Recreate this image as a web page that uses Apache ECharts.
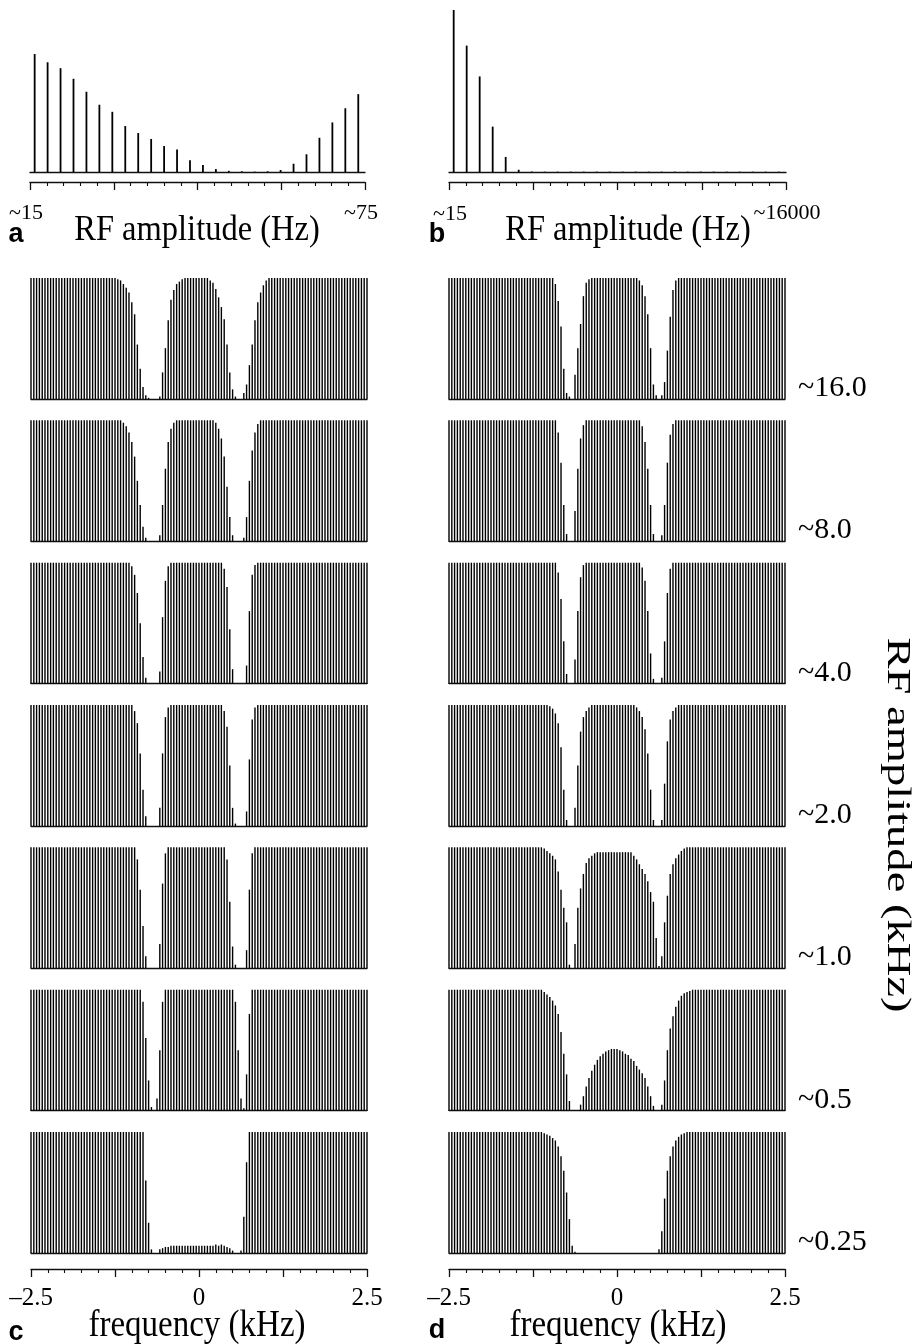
<!DOCTYPE html>
<html><head><meta charset="utf-8">
<script src="https://cdn.jsdelivr.net/npm/echarts@6/dist/echarts.min.js"></script>
<style>html,body{margin:0;padding:0;background:#fff}#main{width:917px;height:1344px}</style>
</head><body><div id="main"></div>
<script>
// ---------- DATA ----------
// panel a / b : stick number along the RF-amplitude axis and relative peak height (%)
const peakNumber = [0,1,2,3,4,5,6,7,8,9,10,11,12,13,14,15,16,17,18,19,20,21,22,23,24,25];
const panelA = [100,93,88,79,68,57,51,39,33,28,22,19,10,6,2.5,1,0.6,0.3,0.6,1.7,7,15,29,42,54,66];
const panelB = [100,78,59,28,9.3,1.4,0.3,0.2,0.2,0.2,0.2,0.2,0.2,0.2,0.2,0.2,0.2,0.2,0.2,0.2,0.2,0.2,0.2,0.2,0.2,0.2];
const abLabels = {aMin:'~15', aMax:'~75', bMin:'~15', bMax:'~16000'};

// panels c / d : frequency of each stick (kHz)
const freqKHz = [-2.5,-2.458,-2.417,-2.375,-2.333,-2.292,-2.25,-2.208,-2.167,-2.125,
-2.083,-2.042,-2,-1.958,-1.917,-1.875,-1.833,-1.792,-1.75,-1.708,
-1.667,-1.625,-1.583,-1.542,-1.5,-1.458,-1.417,-1.375,-1.333,-1.292,
-1.25,-1.208,-1.167,-1.125,-1.083,-1.042,-1,-0.958,-0.917,-0.875,
-0.833,-0.792,-0.75,-0.708,-0.667,-0.625,-0.583,-0.542,-0.5,-0.458,
-0.417,-0.375,-0.333,-0.292,-0.25,-0.208,-0.167,-0.125,-0.083,-0.042,
0,
0.042,0.083,0.125,0.167,0.208,0.25,0.292,0.333,0.375,0.417,
0.458,0.5,0.542,0.583,0.625,0.667,0.708,0.75,0.792,0.833,
0.875,0.917,0.958,1,1.042,1.083,1.125,1.167,1.208,1.25,
1.292,1.333,1.375,1.417,1.458,1.5,1.542,1.583,1.625,1.667,
1.708,1.75,1.792,1.833,1.875,1.917,1.958,2,2.042,2.083,
2.125,2.167,2.208,2.25,2.292,2.333,2.375,2.417,2.458,2.5];

// panel c rows (relative intensity)
const c_16 = [1,1,1,1,1,1,1,1,1,1, 1,1,1,1,1,1,1,1,1,1, 1,1,1,1,1,1,1,1,1,1,
1,.99,.98,.95,.92,.88,.8,.7,.45,.25, .1,.03,.01,0,0,0,.02,.22,.42,.65,
.82,.9,.95,.97,.99,1,1,1,1,1, 1,1,1,1,.98,.96,.91,.84,.76,.66,
.45,.22,.08,.02,0,0,.05,.12,.28,.45, .65,.8,.88,.94,.98,1,1,1,1,1,
1,1,1,1,1,1,1,1,1,1, 1,1,1,1,1,1,1,1,1,1, 1,1,1,1,1,1,1,1,1,1, 1];
const c_8 = [1,1,1,1,1,1,1,1,1,1, 1,1,1,1,1,1,1,1,1,1, 1,1,1,1,1,1,1,1,1,1,
1,1,1,.98,.95,.9,.82,.7,.5,.3, .12,.03,0,0,0,0,.05,.3,.6,.82,
.93,.98,1,1,1,1,1,1,1,1, 1,1,1,1,1,1,.98,.93,.85,.7,
.45,.2,.05,0,0,0,.03,.2,.5,.75, .9,.97,1,1,1,1,1,1,1,1,
1,1,1,1,1,1,1,1,1,1, 1,1,1,1,1,1,1,1,1,1, 1,1,1,1,1,1,1,1,1,1, 1];
const c_4 = [1,1,1,1,1,1,1,1,1,1, 1,1,1,1,1,1,1,1,1,1, 1,1,1,1,1,1,1,1,1,1,
1,1,1,1,1,1,.97,.9,.75,.5, .22,.05,0,0,0,0,.1,.55,.85,.97,
1,1,1,1,1,1,1,1,1,1, 1,1,1,1,1,1,1,1,1,.95,
.8,.45,.12,0,0,0,0,.15,.6,.9, .98,1,1,1,1,1,1,1,1,1,
1,1,1,1,1,1,1,1,1,1, 1,1,1,1,1,1,1,1,1,1, 1,1,1,1,1,1,1,1,1,1, 1];
const c_2 = [1,1,1,1,1,1,1,1,1,1, 1,1,1,1,1,1,1,1,1,1, 1,1,1,1,1,1,1,1,1,1,
1,1,1,1,1,1,1,.95,.85,.6, .3,.08,0,0,0,0,.15,.6,.9,.98,
1,1,1,1,1,1,1,1,1,1, 1,1,1,1,1,1,1,1,1,.95,
.82,.5,.15,.02,0,0,0,.12,.55,.88, .98,1,1,1,1,1,1,1,1,1,
1,1,1,1,1,1,1,1,1,1, 1,1,1,1,1,1,1,1,1,1, 1,1,1,1,1,1,1,1,1,1, 1];
const c_1 = [1,1,1,1,1,1,1,1,1,1, 1,1,1,1,1,1,1,1,1,1, 1,1,1,1,1,1,1,1,1,1,
1,1,1,1,1,1,1,1,.9,.65, .35,.1,0,0,0,0,.2,.7,.95,1,
1,1,1,1,1,1,1,1,1,1, 1,1,1,1,1,1,1,1,1,1,
.9,.55,.18,.03,0,0,0,.15,.65,.95, 1,1,1,1,1,1,1,1,1,1,
1,1,1,1,1,1,1,1,1,1, 1,1,1,1,1,1,1,1,1,1, 1,1,1,1,1,1,1,1,1,1, 1];
const c_05 = [1,1,1,1,1,1,1,1,1,1, 1,1,1,1,1,1,1,1,1,1, 1,1,1,1,1,1,1,1,1,1,
1,1,1,1,1,1,1,1,1,1, .9,.6,.25,.03,0,.1,.5,.9,1,1,
1,1,1,1,1,1,1,1,1,1, 1,1,1,1,1,1,1,1,1,1,
1,1,1,.9,.5,.1,.02,.3,.8,1, 1,1,1,1,1,1,1,1,1,1,
1,1,1,1,1,1,1,1,1,1, 1,1,1,1,1,1,1,1,1,1, 1,1,1,1,1,1,1,1,1,1, 1];
const c_025 = [1,1,1,1,1,1,1,1,1,1, 1,1,1,1,1,1,1,1,1,1, 1,1,1,1,1,1,1,1,1,1,
1,1,1,1,1,1,1,1,1,1, 1,.6,.25,.03,0,0,.03,.04,.05,.05,
.06,.06,.06,.06,.06,.06,.06,.06,.06,.06, .06,.06,.06,.06,.06,.06,.07,.06,.07,.06,
.05,.04,.02,0,0,.02,.3,.75,1,1, 1,1,1,1,1,1,1,1,1,1,
1,1,1,1,1,1,1,1,1,1, 1,1,1,1,1,1,1,1,1,1, 1,1,1,1,1,1,1,1,1,1, 1];

// panel d rows
const d_16 = [1,1,1,1,1,1,1,1,1,1, 1,1,1,1,1,1,1,1,1,1, 1,1,1,1,1,1,1,1,1,1,
1,1,1,1,1,1,1,1,.95,.81, .6,.25,.05,.02,0,.2,.42,.62,.85,.96,
.99,1,1,1,1,1,1,1,1,1, 1,1,1,1,1,1,1,1,.98,.94,
.85,.7,.42,.12,.03,0,.03,.14,.4,.68, .9,.98,1,1,1,1,1,1,1,1,
1,1,1,1,1,1,1,1,1,1, 1,1,1,1,1,1,1,1,1,1, 1,1,1,1,1,1,1,1,1,1, 1];
const d_8 = [1,1,1,1,1,1,1,1,1,1, 1,1,1,1,1,1,1,1,1,1, 1,1,1,1,1,1,1,1,1,1,
1,1,1,1,1,1,1,1,1,.9, .65,.3,.06,0,0,.25,.6,.85,.96,1,
1,1,1,1,1,1,1,1,1,1, 1,1,1,1,1,1,1,1,1,.95,
.82,.6,.3,.06,0,0,.05,.3,.65,.88, .97,1,1,1,1,1,1,1,1,1,
1,1,1,1,1,1,1,1,1,1, 1,1,1,1,1,1,1,1,1,1, 1,1,1,1,1,1,1,1,1,1, 1];
const d_4 = [1,1,1,1,1,1,1,1,1,1, 1,1,1,1,1,1,1,1,1,1, 1,1,1,1,1,1,1,1,1,1,
1,1,1,1,1,1,1,1,1,.92, .7,.35,.08,0,0,.2,.6,.88,.98,1,
1,1,1,1,1,1,1,1,1,1, 1,1,1,1,1,1,1,1,1,.96,
.85,.6,.25,.04,0,0,.05,.35,.75,.95, 1,1,1,1,1,1,1,1,1,1,
1,1,1,1,1,1,1,1,1,1, 1,1,1,1,1,1,1,1,1,1, 1,1,1,1,1,1,1,1,1,1, 1];
const d_2 = [1,1,1,1,1,1,1,1,1,1, 1,1,1,1,1,1,1,1,1,1, 1,1,1,1,1,1,1,1,1,1,
1,1,1,1,1,1,.99,.97,.93,.85, .65,.3,.05,0,0,.15,.5,.78,.9,.95,
.98,1,1,1,1,1,1,1,1,1, 1,1,1,1,1,1,1,.98,.95,.9,
.8,.6,.3,.05,0,0,.05,.35,.7,.88, .95,.98,1,1,1,1,1,1,1,1,
1,1,1,1,1,1,1,1,1,1, 1,1,1,1,1,1,1,1,1,1, 1,1,1,1,1,1,1,1,1,1, 1];
const d_1 = [1,1,1,1,1,1,1,1,1,1, 1,1,1,1,1,1,1,1,1,1, 1,1,1,1,1,1,1,1,1,1,
1,1,1,1,.99,.97,.95,.93,.9,.8, .65,.5,.38,.03,0,.2,.5,.66,.78,.87,
.91,.93,.95,.96,.96,.96,.96,.96,.96,.96, .96,.96,.96,.96,.96,.96,.93,.9,.86,.82,
.78,.72,.63,.55,.25,.02,.1,.38,.6,.78, .86,.91,.94,.97,.99,1,1,1,1,1,
1,1,1,1,1,1,1,1,1,1, 1,1,1,1,1,1,1,1,1,1, 1,1,1,1,1,1,1,1,1,1, 1];
const d_05 = [1,1,1,1,1,1,1,1,1,1, 1,1,1,1,1,1,1,1,1,1, 1,1,1,1,1,1,1,1,1,1,
1,1,1,1,.98,.96,.94,.91,.87,.8, .65,.47,.3,.08,0,0,0,.05,.12,.2,
.27,.33,.38,.42,.45,.47,.49,.5,.51,.51, .51,.5,.49,.47,.46,.43,.41,.37,.34,.31,
.27,.2,.12,.04,0,0,.05,.25,.5,.68, .78,.86,.91,.95,.97,.98,.99,1,1,1,
1,1,1,1,1,1,1,1,1,1, 1,1,1,1,1,1,1,1,1,1, 1,1,1,1,1,1,1,1,1,1, 1];
const d_025 = [1,1,1,1,1,1,1,1,1,1, 1,1,1,1,1,1,1,1,1,1, 1,1,1,1,1,1,1,1,1,1,
1,1,1,1,.99,.98,.97,.95,.93,.88, .8,.68,.5,.28,.06,.01,0,0,0,0,
0,0,0,0,0,0,0,0,0,0, 0,0,0,0,0,0,0,0,0,0,
0,0,0,0,0,.03,.18,.45,.68,.8, .88,.93,.96,.98,.99,1,1,1,1,1,
1,1,1,1,1,1,1,1,1,1, 1,1,1,1,1,1,1,1,1,1, 1,1,1,1,1,1,1,1,1,1, 1];

const rowLabels = ['~16.0','~8.0','~4.0','~2.0','~1.0','~0.5','~0.25'];
const freqTickLabels = {'-2.5':'\u20132.5','0':'0','2.5':'2.5'};
const cRows = [c_16, c_8, c_4, c_2, c_1, c_05, c_025];
const dRows = [d_16, d_8, d_4, d_2, d_1, d_05, d_025];

// ---------- LAYOUT ----------
const rowBase = [399, 541.3, 683.7, 826, 968.3, 1110.7, 1253];
const rowH = 121;
const SERIF = '"Liberation Serif", "Times New Roman", serif';
const SANS = '"Liberation Sans", Arial, sans-serif';
const ink = '#111';

const grid = [], xAxis = [], yAxis = [], series = [], graphic = [];

function hiddenY(gi, max){ yAxis.push({gridIndex: gi, type:'value', min:0, max:max, show:false}); return yAxis.length-1; }
function stickX(gi, min, max){
  xAxis.push({gridIndex: gi, type:'value', min:min, max:max, position:'bottom',
    axisLine:{show:true, onZero:false, lineStyle:{color:ink, width:1.3}},
    axisTick:{show:false}, axisLabel:{show:false}, splitLine:{show:false}});
  return xAxis.length-1;
}
function tickX(gi, min, max, interval, offset, labels){
  xAxis.push({gridIndex: gi, type:'value', min:min, max:max, interval:interval, position:'bottom', offset:offset,
    axisLine:{show:true, onZero:false, lineStyle:{color:ink, width:1.3}},
    axisTick:{show:true, length:8, lineStyle:{color:ink, width:1.3}},
    minorTick:{show:true, splitNumber:5, length:4, lineStyle:{color:ink, width:1.1}},
    splitLine:{show:false}, minorSplitLine:{show:false},
    axisLabel: labels ? {show:true, margin:17, color:'#000', fontFamily:SERIF, fontSize:25,
      showMinLabel:true, showMaxLabel:true,
      formatter: v => (labels[String(v)] !== undefined ? labels[String(v)] : '')} : {show:false}});
  return xAxis.length-1;
}
function sticks(gi, xi, yi, xs, ys, w){
  series.push({type:'bar', xAxisIndex: xi, yAxisIndex: yi, barWidth: w, silent:true,
    itemStyle:{color:'#000'}, data: xs.map((x,i)=>[x, ys[i]])});
}

// panel a
grid.push({left:30, top:54, width:335, height:118});
{ const gi = grid.length-1; const xi = stickX(gi, -0.36, 25.52); tickX(gi, 0, 20, 5, 10, null); const yi = hiddenY(gi, 100); sticks(gi, xi, yi, peakNumber, panelA, 1.8); }
// panel b
grid.push({left:449, top:10, width:337, height:162});
{ const gi = grid.length-1; const xi = stickX(gi, -0.36, 25.56); tickX(gi, 0, 20, 5, 10, null); const yi = hiddenY(gi, 100); sticks(gi, xi, yi, peakNumber, panelB, 1.8); }

// panels c & d
[[31, cRows], [449, dRows]].forEach(([left, rows]) => {
  rows.forEach((vals, r) => {
    grid.push({left:left, top: rowBase[r]-rowH, width:336, height:rowH});
    const gi = grid.length-1;
    const xi = stickX(gi, -2.5, 2.5);
    if (r === rows.length-1) tickX(gi, -2.5, 2.5, 1.25, 16, freqTickLabels);
    const yi = hiddenY(gi, 1);
    sticks(gi, xi, yi, freqKHz, vals, 1.4);
  });
});

// ---------- TEXT ----------
function txt(text, x, y, size, opts){
  opts = opts || {};
  graphic.push({type:'text', x:x, y:y, rotation: opts.rotation || 0, scaleX: opts.sx || 1, scaleY: opts.sy || 1, silent:true,
    style:{text:text, fill:'#000', font: (opts.weight||'normal') + ' ' + size + 'px ' + (opts.family||SERIF),
      textAlign: opts.align || 'center', textVerticalAlign:'middle', align: opts.align || 'center', verticalAlign:'middle'}});
}
txt(abLabels.aMin, 26, 213, 22);
txt(abLabels.aMax, 361, 213, 22);
txt('RF amplitude (Hz)', 197, 230, 32.5, {sy:1.12});
txt('a', 16, 235, 27, {weight:'bold', family:SANS});
txt(abLabels.bMin, 450, 214, 22);
txt(abLabels.bMax, 787, 213, 22);
txt('RF amplitude (Hz)', 628, 230, 32.5, {sy:1.12});
txt('b', 437, 235, 27, {weight:'bold', family:SANS});
txt('frequency (kHz)', 197, 1326, 33, {sy:1.12});
txt('frequency (kHz)', 618, 1326, 33, {sy:1.12});
txt('c', 16, 1333, 27, {weight:'bold', family:SANS});
txt('d', 437, 1331, 27, {weight:'bold', family:SANS});
rowLabels.forEach((t, r) => txt(t, 798, rowBase[r]-11, 30, {align:'left'}));
txt('RF amplitude (kHz)', 897, 825, 34, {rotation: -Math.PI/2, sx: 1.37});

const chart = echarts.init(document.getElementById('main'), null, {renderer:'canvas'});
chart.setOption({animation:false, backgroundColor:'#fff', grid, xAxis, yAxis, series, graphic});
</script>
</body></html>
